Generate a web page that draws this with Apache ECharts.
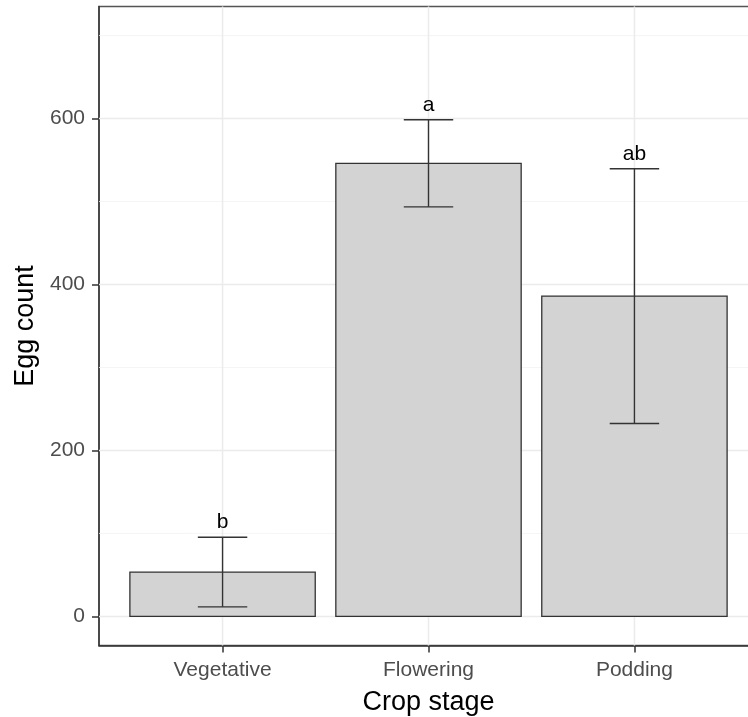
<!DOCTYPE html>
<html>
<head>
<meta charset="utf-8">
<script src="https://cdn.jsdelivr.net/npm/echarts@6/dist/echarts.min.js"></script>
<style>
  html, body { margin: 0; padding: 0; background: #fff; }
  #chart { width: 748px; height: 717px; }
</style>
</head>
<body>
<div id="chart"></div>
<script>
// Egg counts per crop stage: mean with standard error and significance letters
const stages = ['Vegetative', 'Flowering', 'Podding'];
const eggMean = [53.5, 546, 386];
const eggErr = [42, 52.5, 153.5];
const groupLetters = ['b', 'a', 'ab'];
const yTicks = [0, 200, 400, 600];
const yMinor = [100, 300, 500, 700];

const stagePos = stages.map((_, i) => i + 1);
const BAR_HALF = 0.45;
const CAP_HALF = 0.12;
const X_MIN = 0.4, X_MAX = 3.6;
const Y_MIN = -35, Y_MAX = 735;

const barData = stagePos.map((x, i) => [x, eggMean[i]]);
const errData = stagePos.map((x, i) => [x, eggMean[i] - eggErr[i], eggMean[i] + eggErr[i]]);
const letterData = stagePos.map((x, i) => [x, eggMean[i] + eggErr[i], groupLetters[i]]);

// grid line records: [0 = horizontal / 1 = vertical, value, major flag]
const gridData = [
  ...yMinor.map(v => [0, v, 0]),
  ...yTicks.map(v => [0, v, 1]),
  ...stagePos.map(v => [1, v, 1])
];

const gridColor = '#ebebeb';
const inkColor = '#333333';
const FONT = '"Liberation Sans", Arial, sans-serif';

const chart = echarts.init(document.getElementById('chart'), null, { renderer: 'canvas' });

chart.setOption({
  animation: false,
  backgroundColor: '#ffffff',
  grid: {
    left: 99, top: 6.5, width: 659, height: 639,
    outerBoundsMode: 'none', containLabel: false,
    show: true, borderColor: '#555555', borderWidth: 1.3, backgroundColor: '#ffffff'
  },
  xAxis: {
    type: 'value', min: X_MIN, max: X_MAX,
    name: 'Crop stage', nameLocation: 'middle', nameGap: 44,
    nameTextStyle: { fontFamily: FONT, fontSize: 27, color: '#000' },
    axisLine: { show: true, onZero: false, lineStyle: { color: inkColor, width: 1.5 } },
    axisTick: { show: true, length: 7, customValues: stagePos, lineStyle: { color: inkColor, width: 1.5 } },
    axisLabel: {
      customValues: stagePos, margin: 14,
      fontFamily: FONT, fontSize: 21, color: '#4d4d4d',
      formatter: v => stages[Math.round(v) - 1] || ''
    },
    splitLine: { show: false }
  },
  yAxis: {
    type: 'value', min: Y_MIN, max: Y_MAX,
    name: 'Egg count', nameLocation: 'middle', nameGap: 60,
    nameTextStyle: { fontFamily: FONT, fontSize: 27, color: '#000' },
    axisLine: { show: true, onZero: false, lineStyle: { color: inkColor, width: 1.5 } },
    axisTick: { show: true, length: 7, customValues: yTicks, lineStyle: { color: inkColor, width: 1.5 } },
    axisLabel: {
      customValues: yTicks, margin: 14,
      fontFamily: FONT, fontSize: 21, color: '#4d4d4d'
    },
    splitLine: { show: false }
  },
  series: [
    {
      // panel grid lines (under the bars)
      type: 'custom', z: 1, silent: true, data: gridData,
      renderItem: (params, api) => {
        const vertical = api.value(0) === 1, v = api.value(1), major = api.value(2) === 1;
        const a = vertical ? api.coord([v, Y_MIN]) : api.coord([X_MIN, v]);
        const b = vertical ? api.coord([v, Y_MAX]) : api.coord([X_MAX, v]);
        return {
          type: 'line',
          shape: { x1: a[0], y1: a[1], x2: b[0], y2: b[1] },
          style: { stroke: major ? gridColor : '#f3f3f3', lineWidth: major ? 1.5 : 0.8 }
        };
      }
    },
    {
      // bars
      type: 'custom', z: 2, data: barData,
      renderItem: (params, api) => {
        const x = api.value(0), y = api.value(1);
        const p0 = api.coord([x - BAR_HALF, y]);
        const p1 = api.coord([x + BAR_HALF, 0]);
        return {
          type: 'rect',
          shape: { x: p0[0], y: p0[1], width: p1[0] - p0[0], height: p1[1] - p0[1] },
          style: { fill: '#d3d3d3', stroke: inkColor, lineWidth: 1.3 }
        };
      }
    },
    {
      // error bars
      type: 'custom', z: 3, data: errData,
      renderItem: (params, api) => {
        const x = api.value(0), lo = api.value(1), hi = api.value(2);
        const top = api.coord([x, hi]), bot = api.coord([x, lo]);
        const l = api.coord([x - CAP_HALF, hi])[0], r = api.coord([x + CAP_HALF, hi])[0];
        const st = { stroke: inkColor, lineWidth: 1.4 };
        return {
          type: 'group',
          children: [
            { type: 'line', shape: { x1: top[0], y1: top[1], x2: bot[0], y2: bot[1] }, style: st },
            { type: 'line', shape: { x1: l, y1: top[1], x2: r, y2: top[1] }, style: st },
            { type: 'line', shape: { x1: l, y1: bot[1], x2: r, y2: bot[1] }, style: st }
          ]
        };
      }
    },
    {
      // significance letters above error bars
      type: 'custom', z: 4, data: letterData,
      renderItem: (params, api) => {
        const p = api.coord([api.value(0), api.value(1)]);
        return {
          type: 'text',
          style: {
            x: p[0], y: p[1] - 15, text: letterData[params.dataIndex][2],
            font: '21px "Liberation Sans", Arial, sans-serif',
            fill: '#000', align: 'center', verticalAlign: 'middle'
          }
        };
      }
    }
  ]
});
</script>
</body>
</html>
